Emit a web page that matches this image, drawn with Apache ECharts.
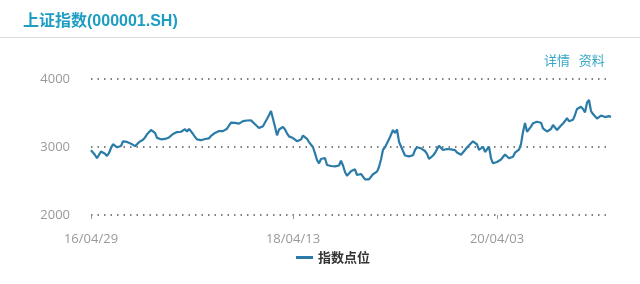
<!DOCTYPE html>
<html>
<head>
<meta charset="utf-8">
<script src="https://cdn.jsdelivr.net/npm/echarts@6/dist/echarts.min.js"></script>
<style>html,body{margin:0;padding:0;background:#fff}#c{width:640px;height:284px}</style>
</head>
<body>
<div id="c"></div>
<script>
const seriesName = '指数点位';
const startDate = '2016-04-29';
const skippedDates = ['2018-02-16', '2020-01-31'];
const tickLabels = ['16/04/29', '18/04/13', '20/04/03'];
const yTicks = [2000, 3000, 4000];
const indexValues = [
2952,2926,2882,2834,2831,2934,2931,2901,2868,2912,
2985,3041,3022,2996,2985,3015,3084,3081,3075,3072,
3049,3029,3012,3040,3071,3091,3107,3138,3187,3210,
3250,3237,3209,3134,3113,3113,3140,3119,3134,3141,
3162,3191,3213,3219,3213,3224,3244,3262,3228,3265,
3231,3191,3147,3112,3094,3100,3109,3118,3147,3128,
3162,3188,3207,3218,3234,3244,3234,3218,3269,3316,
3359,3360,3354,3349,3344,3368,3381,3394,3390,3415,
3391,3362,3335,3309,3279,3288,3306,3359,3412,3466,
3529,3500,3299,3172,3257,3266,3294,3259,3201,3156,
3166,3132,3118,3085,3091,3110,3168,3172,3121,3072,
3054,2996,2907,2809,2760,2824,2846,2838,2735,2735,
2721,2727,2716,2706,2728,2797,2728,2632,2576,2596,
2644,2622,2672,2588,2599,2603,2574,2525,2504,2525,
2563,2599,2609,2638,2706,2815,2959,2996,3054,3113,
3134,3250,3206,3257,3078,3054,2941,2875,2850,2863,
2857,2878,2956,2997,2986,2981,2966,2941,2900,2824,
2821,2875,2912,2968,3018,3004,2956,2946,2971,2971,
2966,2969,2954,2919,2890,2887,2912,2956,2993,3018,
3054,3084,3079,3037,2956,2932,3004,2927,2956,3003,
2834,2760,2768,2779,2797,2816,2841,2890,2882,2834,
2809,2857,2916,2931,2963,3044,3221,3353,3225,3210,
3299,3349,3357,3372,3387,3357,3275,3301,3228,3215,
3265,3324,3312,3250,3274,3316,3346,3382,3424,3379,
3374,3400,3471,3559,3574,3591,3559,3510,3651,3691,
3529,3485,3456,3419,3418,3463,3459,3440,3459,3454,
3441
];

// weekly trading dates (Fridays), skipping closed holiday weeks
function pad(n){return (n<10?'0':'')+n;}
const categories = [];
(function(){
  const p = startDate.split('-').map(Number);
  let t = Date.UTC(p[0], p[1]-1, p[2]);
  while (categories.length < indexValues.length) {
    const d = new Date(t);
    const iso = d.getUTCFullYear()+'-'+pad(d.getUTCMonth()+1)+'-'+pad(d.getUTCDate());
    if (skippedDates.indexOf(iso) < 0) {
      categories.push(pad(d.getUTCFullYear()%100)+'/'+pad(d.getUTCMonth()+1)+'/'+pad(d.getUTCDate()));
    }
    t += 7*24*3600*1000;
  }
})();

const chart = echarts.init(document.getElementById('c'), null, {renderer:'canvas'});
const showTick = (idx, val) => tickLabels.indexOf(val) >= 0;
chart.setOption({
  animation: false,
  backgroundColor: '#fff',
  title: [{
    text: '上证指数(000001.SH)',
    left: 18, top: 9,
    textStyle: {color:'#1e9dc2', fontSize:16, fontWeight:'bold', fontFamily:'Arial, "Noto Sans CJK SC", sans-serif'}
  }, {
    text: '详情   资料',
    left: 539, top: 49,
    textStyle: {color:'#3aa7c6', fontSize:13, fontWeight:'normal', fontFamily:'"Noto Sans CJK SC", sans-serif'}
  }],
  graphic: [{
    type:'line', shape:{x1:0, y1:37.5, x2:640, y2:37.5},
    style:{stroke:'#dcdcdc', lineWidth:1}
  }],
  legend: {
    data:[seriesName], left: 291, top: 246,
    icon: 'rect', itemWidth: 17, itemHeight: 3, itemGap: 10,
    textStyle: {color:'#333', fontSize:13, fontWeight:'bold', fontFamily:'"Noto Sans CJK SC", sans-serif'}
  },
  grid: {left:91, right:29, top:79, bottom:69, containLabel:false, outerBoundsMode:'none'},
  xAxis: {
    type:'category', data: categories, boundaryGap:false,
    axisLine:{show:false},
    axisTick:{show:true, interval: showTick, length:4, lineStyle:{color:'#999'}},
    axisLabel:{interval: showTick, color:'#999', fontSize:13, margin:18, fontFamily:'"Open Sans", sans-serif'},
    splitLine:{show:false}
  },
  yAxis: {
    type:'value', min: yTicks[0], max: yTicks[yTicks.length-1], interval: 1000,
    axisLine:{show:false}, axisTick:{show:false},
    axisLabel:{color:'#999', fontSize:13, margin:21, fontFamily:'"Open Sans", sans-serif', formatter: v => String(v)},
    splitLine:{show:true, lineStyle:{color:'#555', width:1.5, type:[1.5,5]}}
  },
  series: [{
    name: seriesName, type:'line', data: indexValues,
    showSymbol:false, symbol:'none', smooth:false,
    lineStyle:{color:'#2a7ba7', width:2.2},
    itemStyle:{color:'#2a7ba7'}
  }]
});
</script>
</body>
</html>
